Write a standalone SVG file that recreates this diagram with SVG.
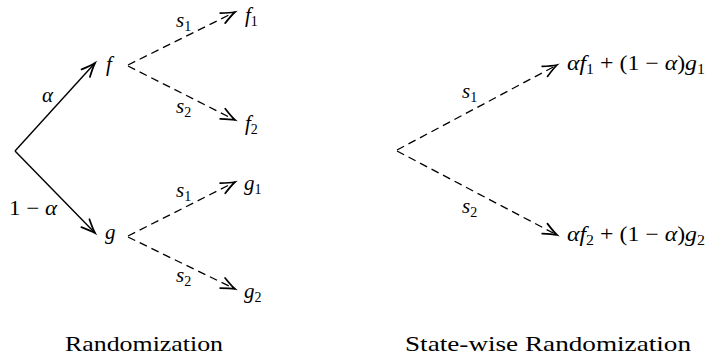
<svg xmlns="http://www.w3.org/2000/svg" width="708" height="360" viewBox="0 0 708 360">
<defs>
<marker id="arr" markerUnits="userSpaceOnUse" markerWidth="20" markerHeight="20" viewBox="-12 -8 16 16" refX="0" refY="0" orient="auto" overflow="visible">
<path d="M -11,-4.5 Q -4,-1.2 0,0 Q -4,1.2 -11,4.5" fill="none" stroke="#000" stroke-width="1.4" stroke-linecap="round"/>
</marker>
</defs>
<style>
.solid{stroke:#000;stroke-width:1.4;fill:none;marker-end:url(#arr)}
.dash{stroke:#000;stroke-width:1.3;fill:none;stroke-dasharray:8 5;marker-end:url(#arr)}
.m{font-family:"Liberation Serif","DejaVu Serif",serif;font-style:italic;font-size:21px;fill:#000}
.r{font-family:"Liberation Serif","DejaVu Serif",serif;font-style:normal}
.sub{font-size:14px;font-style:normal}
.cap{font-family:"Liberation Serif","DejaVu Serif",serif;font-size:21px;fill:#000}
</style>
<g id="connectors">
<line class="solid" x1="15" y1="151" x2="95" y2="63"/>
<line class="solid" x1="15" y1="151" x2="95" y2="233"/>
<line class="dash" x1="128" y1="65" x2="235" y2="12"/>
<line class="dash" x1="128" y1="66" x2="235" y2="120"/>
<line class="dash" x1="128" y1="236" x2="235" y2="182"/>
<line class="dash" x1="128" y1="237" x2="235" y2="289"/>
<line class="dash" x1="397" y1="150" x2="557" y2="65"/>
<line class="dash" x1="397" y1="151" x2="557" y2="235"/>
</g>
<g id="edge-labels">
<text class="m" x="42" y="102">α</text>
<text class="m" x="9" y="215" textLength="48" lengthAdjust="spacingAndGlyphs"><tspan class="r">1 − </tspan>α</text>
<text class="m" x="176" y="27">s<tspan class="sub" dy="4">1</tspan></text>
<text class="m" x="176" y="113">s<tspan class="sub" dy="4">2</tspan></text>
<text class="m" x="176" y="197">s<tspan class="sub" dy="4">1</tspan></text>
<text class="m" x="176" y="282">s<tspan class="sub" dy="4">2</tspan></text>
<text class="m" x="462" y="98">s<tspan class="sub" dy="4">1</tspan></text>
<text class="m" x="462" y="213">s<tspan class="sub" dy="4">2</tspan></text>
</g>
<g id="node-f"><text class="m" x="106" y="71">f</text></g>
<g id="node-g"><text class="m" x="105" y="239">g</text></g>
<g id="node-f1"><text class="m" x="245" y="22">f<tspan class="sub" dy="4">1</tspan></text></g>
<g id="node-f2"><text class="m" x="245" y="130">f<tspan class="sub" dy="4">2</tspan></text></g>
<g id="node-g1"><text class="m" x="244" y="190">g<tspan class="sub" dy="4">1</tspan></text></g>
<g id="node-g2"><text class="m" x="244" y="298">g<tspan class="sub" dy="4">2</tspan></text></g>
<g id="node-mix1"><text class="m" x="567" y="70" textLength="138" lengthAdjust="spacingAndGlyphs">αf<tspan class="sub" dy="4">1</tspan><tspan class="r" dy="-4"> + (1 − </tspan>α<tspan class="r">)</tspan>g<tspan class="sub" dy="4">1</tspan></text></g>
<g id="node-mix2"><text class="m" x="567" y="241" textLength="138" lengthAdjust="spacingAndGlyphs">αf<tspan class="sub" dy="4">2</tspan><tspan class="r" dy="-4"> + (1 − </tspan>α<tspan class="r">)</tspan>g<tspan class="sub" dy="4">2</tspan></text></g>
<g id="captions">
<text class="cap" x="65" y="351" textLength="158" lengthAdjust="spacingAndGlyphs">Randomization</text>
<text class="cap" x="405" y="351" textLength="286" lengthAdjust="spacingAndGlyphs">State-wise Randomization</text>
</g>
</svg>
